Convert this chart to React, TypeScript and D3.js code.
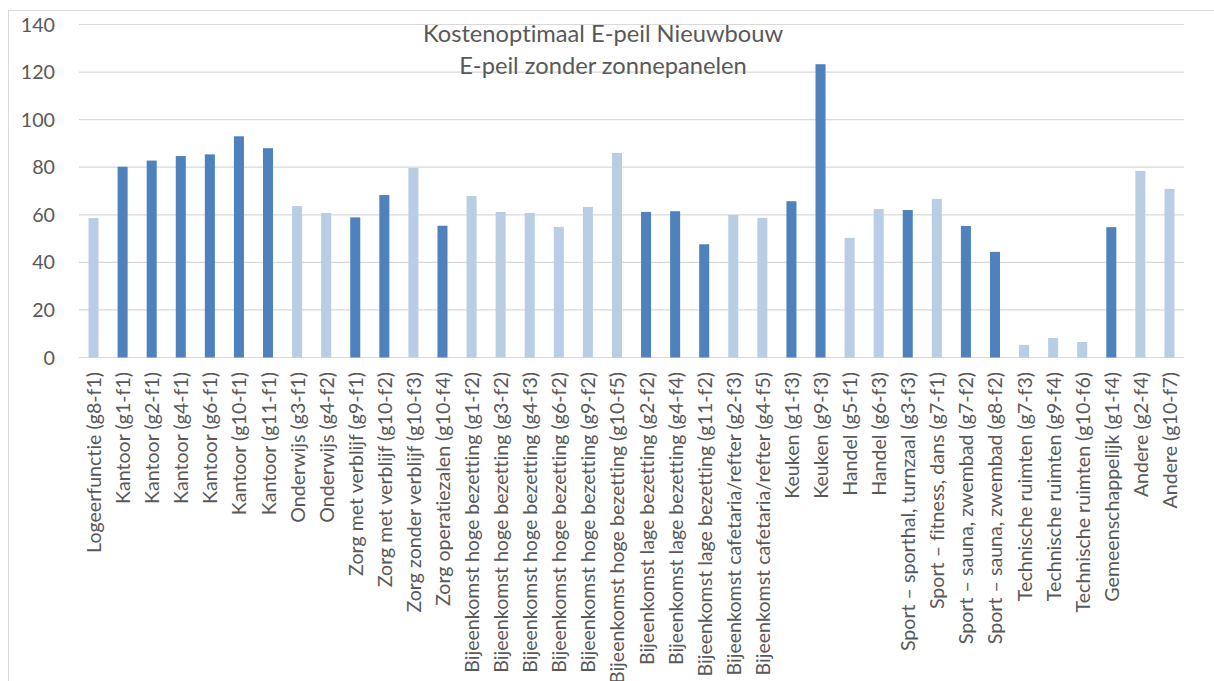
import React from "react";
import * as d3 from "d3";

const categories: string[] = [
  "Logeerfunctie (g8-f1)",
  "Kantoor (g1-f1)",
  "Kantoor (g2-f1)",
  "Kantoor (g4-f1)",
  "Kantoor (g6-f1)",
  "Kantoor (g10-f1)",
  "Kantoor (g11-f1)",
  "Onderwijs (g3-f1)",
  "Onderwijs (g4-f2)",
  "Zorg met verblijf (g9-f1)",
  "Zorg met verblijf (g10-f2)",
  "Zorg zonder verblijf (g10-f3)",
  "Zorg operatiezalen (g10-f4)",
  "Bijeenkomst hoge bezetting (g1-f2)",
  "Bijeenkomst hoge bezetting (g3-f2)",
  "Bijeenkomst hoge bezetting (g4-f3)",
  "Bijeenkomst hoge bezetting (g6-f2)",
  "Bijeenkomst hoge bezetting (g9-f2)",
  "Bijeenkomst hoge bezetting (g10-f5)",
  "Bijeenkomst lage bezetting (g2-f2)",
  "Bijeenkomst lage bezetting (g4-f4)",
  "Bijeenkomst lage bezetting (g11-f2)",
  "Bijeenkomst cafetaria/refter (g2-f3)",
  "Bijeenkomst cafetaria/refter (g4-f5)",
  "Keuken (g1-f3)",
  "Keuken (g9-f3)",
  "Handel (g5-f1)",
  "Handel (g6-f3)",
  "Sport – sporthal, turnzaal (g3-f3)",
  "Sport – fitness, dans (g7-f1)",
  "Sport – sauna, zwembad (g7-f2)",
  "Sport – sauna, zwembad (g8-f2)",
  "Technische ruimten (g7-f3)",
  "Technische ruimten (g9-f4)",
  "Technische ruimten (g10-f6)",
  "Gemeenschappelijk (g1-f4)",
  "Andere (g2-f4)",
  "Andere (g10-f7)",
];

const values: number[] = [
  58.6, 80.2, 82.8, 84.7, 85.4, 93.0, 88.0, 63.7, 60.8, 58.9, 68.3, 79.7, 55.4,
  67.9, 61.2, 60.8, 54.9, 63.3, 86.0, 61.2, 61.5, 47.6, 59.9, 58.7, 65.7, 123.3,
  50.3, 62.4, 62.0, 66.7, 55.3, 44.4, 5.3, 8.2, 6.5, 54.8, 78.4, 70.9,
];

// 1 = highlighted (dark blue), 0 = light blue
const highlight: number[] = [
  0, 1, 1, 1, 1, 1, 1, 0, 0, 1, 1, 0, 1,
  0, 0, 0, 0, 0, 0, 1, 1, 1, 0, 0, 1, 1,
  0, 0, 1, 0, 1, 1, 0, 0, 0, 1, 0, 0,
];

const yTicks: number[] = [0, 20, 40, 60, 80, 100, 120, 140];

const titleLines: string[] = ["Kostenoptimaal E-peil Nieuwbouw", "E-peil zonder zonnepanelen"];

const W = 1214;
const H = 681;
const plotLeft = 79;
const plotRight = 1184;
const plotTop = 24.5;
const plotBottom = 357.5;
const FONT = "Lato, sans-serif";
const TEXT = "#595959";
const noLig = { fontVariantLigatures: "none" as const };

export default function App() {
  const x = d3
    .scaleBand<string>()
    .domain(categories)
    .range([plotLeft, plotRight])
    .paddingInner(0.655)
    .paddingOuter(0.3275);
  const y = d3.scaleLinear().domain([0, 140]).range([plotBottom, plotTop]);

  return (
    <svg
      width={W}
      height={H}
      style={{ position: "absolute", left: 0, top: 0, display: "block", background: "#fff" }}
    >
      <rect x={8.5} y={10.5} width={W + 10} height={H + 10} fill="#fff" stroke="#D9D9D9" strokeWidth={1} />
      {yTicks.map((t) => (
        <g key={t}>
          <line x1={plotLeft} x2={plotRight} y1={y(t)} y2={y(t)} stroke="#D9D9D9" strokeWidth={1.2} />
          <text
            x={55}
            y={y(t)}
            dy="0.36em"
            textAnchor="end"
            fontFamily={FONT}
            fontSize={19.7}
            fill={TEXT}
            style={noLig}
          >
            {t}
          </text>
        </g>
      ))}
      {categories.map((c, i) => (
        <rect
          key={c}
          x={x(c)!}
          y={y(values[i])}
          width={x.bandwidth()}
          height={y(0) - y(values[i])}
          fill={highlight[i] ? "#4F81BD" : "#B9CDE5"}
        />
      ))}
      {categories.map((c) => {
        const cx = x(c)! + x.bandwidth() / 2;
        return (
          <text
            key={"l" + c}
            transform={`translate(${cx + 7.5},372) rotate(-90)`}
            textAnchor="end"
            fontFamily={FONT}
            fontSize={19.6}
            fill={TEXT}
            style={noLig}
          >
            {c}
          </text>
        );
      })}
      {titleLines.map((t, i) => (
        <text
          key={t}
          x={603}
          y={41.5 + i * 32}
          textAnchor="middle"
          fontFamily={FONT}
          fontSize={23.7}
          fill={TEXT}
          style={noLig}
        >
          {t}
        </text>
      ))}
    </svg>
  );
}
